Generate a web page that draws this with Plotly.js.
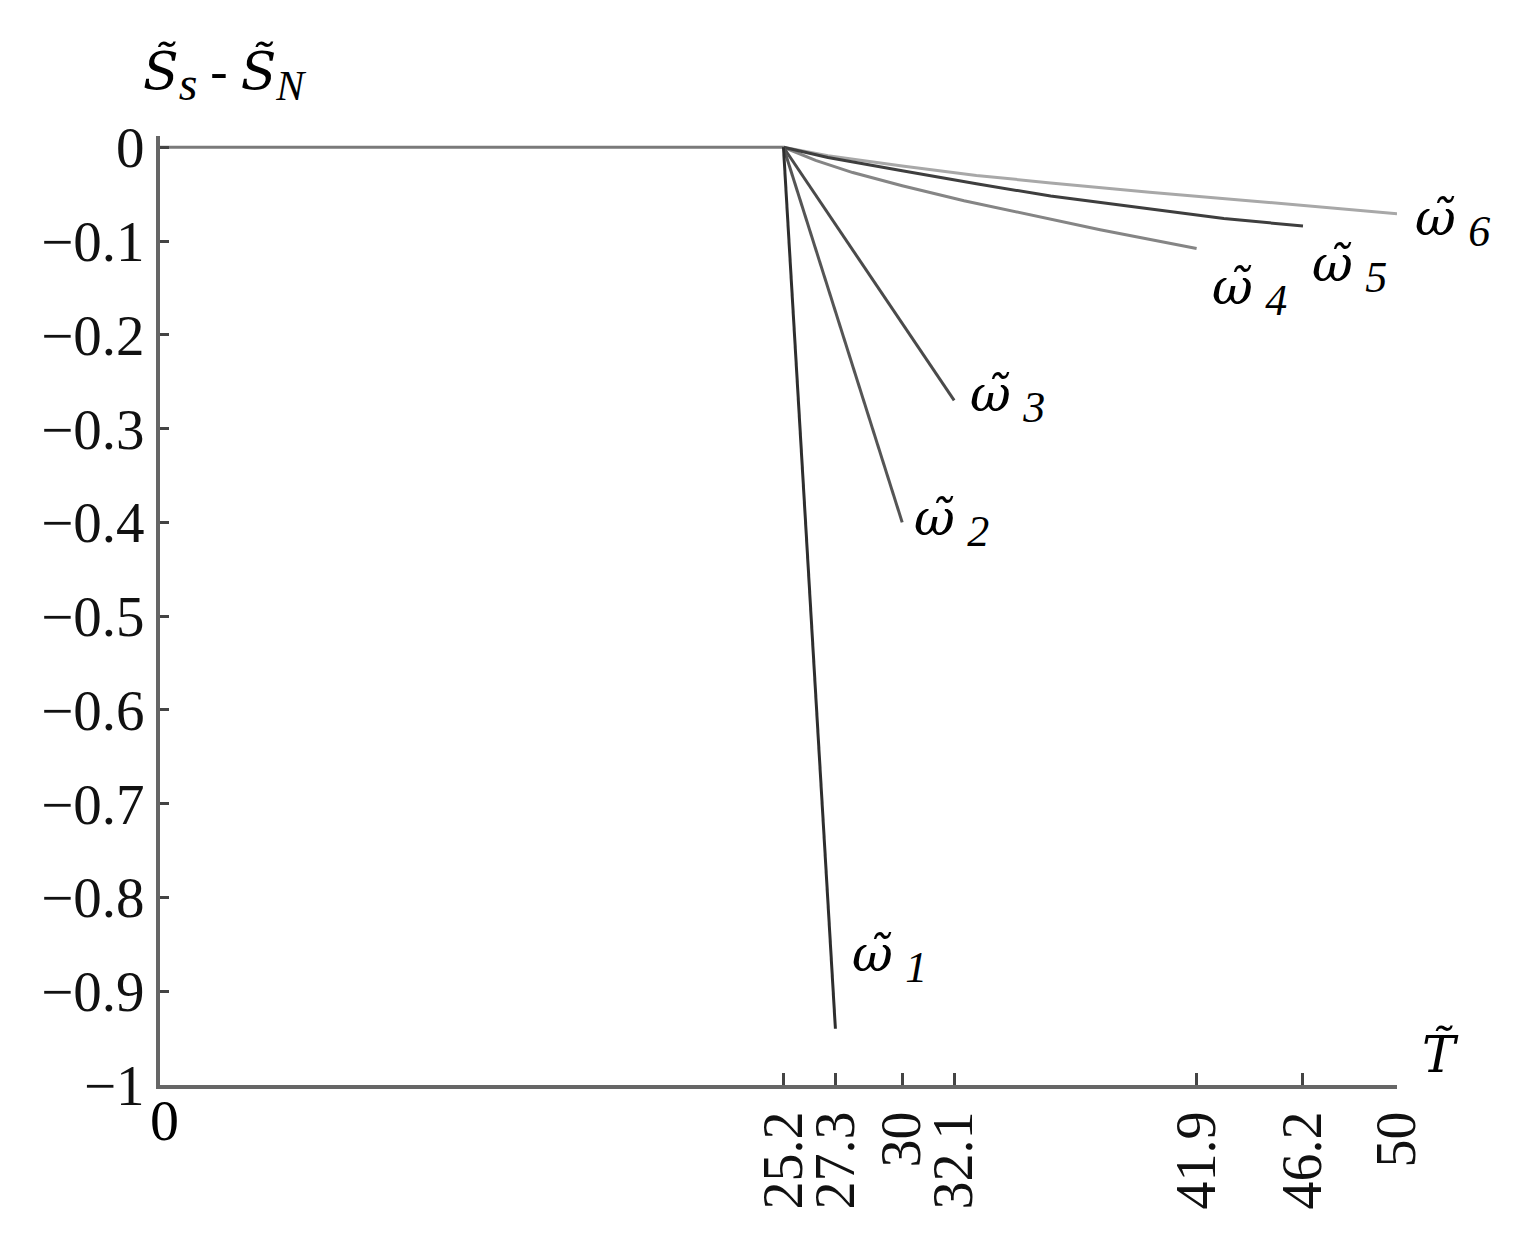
<!DOCTYPE html>
<html>
<head>
<meta charset="utf-8">
<script src="https://cdn.plot.ly/plotly-3.0.1.min.js"></script>
<style>
  body { margin: 0; background: #fff; }
  #chart { width: 1517px; height: 1233px; }
</style>
</head>
<body>
<div id="chart"></div>
<script>
// values
var baseT = [0, 25.2];
var baseS = [0, 0];

var w1T = [25.2, 27.3];
var w1S = [0, -0.94];
var w2T = [25.2, 30];
var w2S = [0, -0.40];
var w3T = [25.2, 32.1];
var w3S = [0, -0.27];
var w4T = [25.2, 26.5, 28, 30, 32.5, 35, 38, 41.9];
var w4S = [0, -0.014, -0.027, -0.041, -0.057, -0.071, -0.088, -0.108];
var w5T = [25.2, 27, 30, 33, 36, 40, 43, 46.2];
var w5S = [0, -0.011, -0.025, -0.039, -0.052, -0.066, -0.076, -0.084];
var w6T = [25.2, 27, 30, 33, 36, 40, 44, 47, 50];
var w6S = [0, -0.009, -0.020, -0.030, -0.038, -0.048, -0.057, -0.064, -0.071];

var xTicks = [25.2, 27.3, 30, 32.1, 41.9, 46.2, 50];
var xTickText = ['25.2', '27.3', '30', '32.1', '41.9', '46.2', '50'];
var yTicks = [0, -0.1, -0.2, -0.3, -0.4, -0.5, -0.6, -0.7, -0.8, -0.9, -1];
var yTickText = ['0', '\u22120.1', '\u22120.2', '\u22120.3', '\u22120.4', '\u22120.5',
  '\u22120.6', '\u22120.7', '\u22120.8', '\u22120.9', '\u22121'];

// curve labels, placed as fractions of the plot area
var curveNames = ['1', '2', '3', '4', '5', '6'];
var labelX = [0.590, 0.640, 0.685, 0.881, 0.962, 1.045];
var labelY = [0.133, 0.593, 0.723, 0.836, 0.860, 0.909];

function line(x, y, color) {
  return {
    x: x, y: y, type: 'scatter', mode: 'lines',
    line: {color: color, width: 3},
    hoverinfo: 'skip', showlegend: false
  };
}

var data = [
  line(baseT, baseS, '#7a7a7a'),
  line(w6T, w6S, '#a8a8a8'),
  line(w4T, w4S, '#858585'),
  line(w5T, w5S, '#3e3e3e'),
  line(w3T, w3S, '#4a4a4a'),
  line(w2T, w2S, '#555555'),
  line(w1T, w1S, '#2e2e2e')
];

var serif = 'Liberation Serif, Times New Roman, serif';
function tilde(ch) {
  return '<span style="font-family:DejaVu Serif"><i>' + ch + '\u0303</i></span>';
}
function low(t, px) {
  return '<sub><span style="font-size:' + px + 'px"><i>' + t + '</i></span></sub>';
}

var annotations = curveNames.map(function(n, i) {
  return {
    x: labelX[i], y: labelY[i], xref: 'paper', yref: 'paper',
    text: tilde('\u03c9') + ' ' + low(n, 44),
    showarrow: false, xanchor: 'center', yanchor: 'middle',
    font: {family: serif, size: 50, color: '#000'}
  };
});
annotations.push({
  x: 1.035, y: 0.032, xref: 'paper', yref: 'paper',
  xanchor: 'center', yanchor: 'middle',
  text: tilde('T'), showarrow: false,
  font: {family: serif, size: 50, color: '#000'}
});
annotations.push({
  x: 0.052, y: 1.064, xref: 'paper', yref: 'paper',
  xanchor: 'center', yanchor: 'middle',
  text: tilde('S') + low('s', 48) + ' - ' + tilde('S') + low('N', 42),
  showarrow: false,
  font: {family: serif, size: 52, color: '#000'}
});
annotations.push({
  x: 0.004, y: -0.037, xref: 'paper', yref: 'paper',
  xanchor: 'center', yanchor: 'middle',
  text: '0', showarrow: false,
  font: {family: serif, size: 58, color: '#000'}
});

var layout = {
  width: 1517, height: 1233,
  margin: {l: 160, r: 120, t: 136, b: 148},
  paper_bgcolor: '#fff', plot_bgcolor: '#fff',
  font: {family: serif, color: '#000'},
  xaxis: {
    range: [0, 50], showgrid: false, zeroline: false,
    showline: true, linecolor: '#666', linewidth: 4,
    ticks: 'inside', ticklen: 12, tickwidth: 3, tickcolor: '#444',
    tickvals: xTicks, ticktext: xTickText, tickangle: -90,
    tickfont: {family: serif, size: 56, color: '#111'}
  },
  yaxis: {
    range: [-1, 0.012], showgrid: false, zeroline: false,
    showline: true, linecolor: '#666', linewidth: 4,
    ticks: 'inside', ticklen: 9, tickwidth: 3, tickcolor: '#444',
    tickvals: yTicks, ticktext: yTickText,
    tickfont: {family: serif, size: 57, color: '#111'}
  },
  annotations: annotations
};

Plotly.newPlot('chart', data, layout, {displayModeBar: false, staticPlot: true});
</script>
</body>
</html>
